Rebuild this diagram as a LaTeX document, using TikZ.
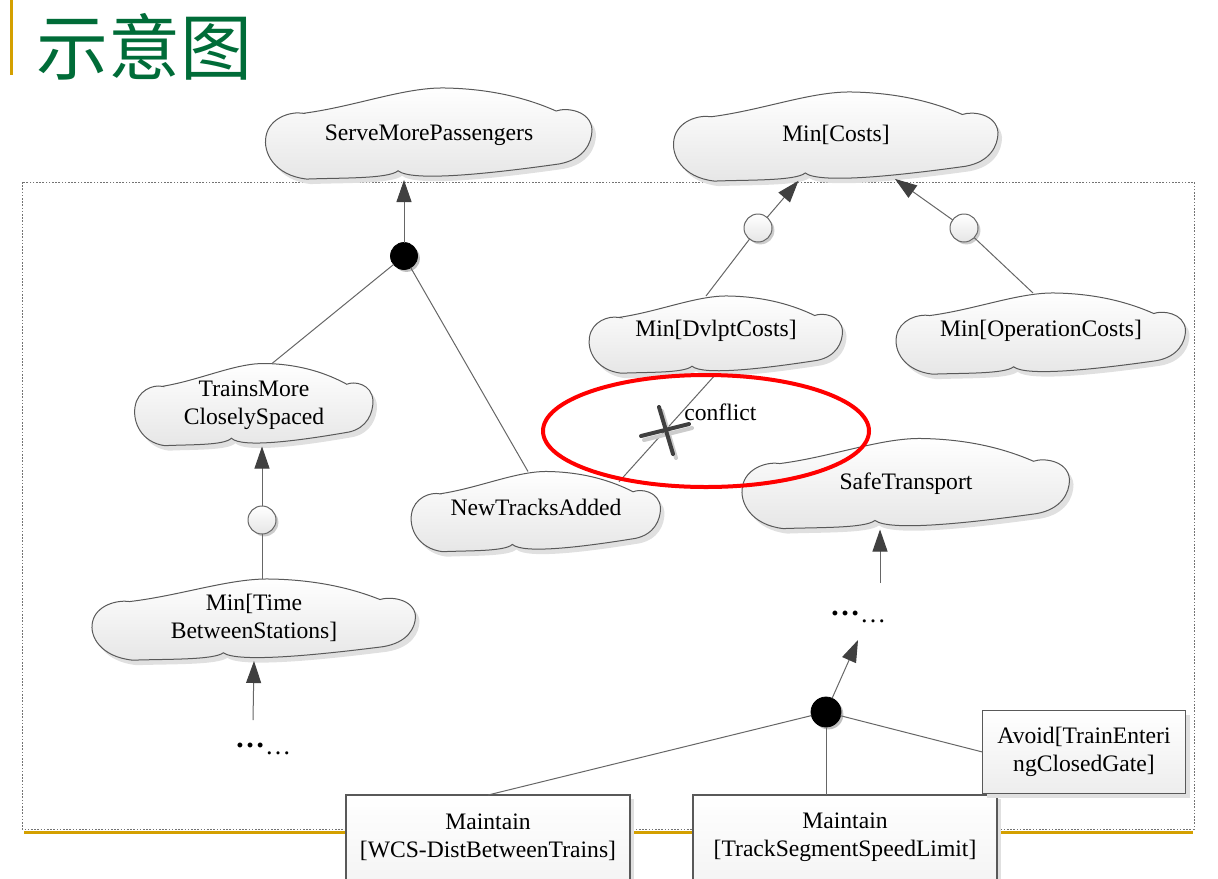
\documentclass[tikz,border=0pt]{standalone}
\usepackage{fontspec}
\setmainfont{Liberation Serif}
\newfontfamily\cjk{Noto Sans CJK SC}
\usetikzlibrary{arrows.meta,shapes.geometric,shadows}
\definecolor{titlegreen}{RGB}{0,108,56}
\definecolor{gold}{RGB}{212,160,0}
\definecolor{tipgray}{RGB}{64,64,64}
\definecolor{conflictred}{RGB}{255,0,0}

\newcommand\cloudpath{(-0.77,0.45) .. controls (-0.45,0.6) and (-0.15,1.02) .. (0.1,1.0)
 .. controls (0.4,0.98) and (0.62,0.75) .. (0.78,0.5)
 .. controls (0.84,0.58) and (0.99,0.52) .. (1.0,0.1)
 .. controls (1.0,-0.2) and (0.95,-0.55) .. (0.8,-0.65)
 .. controls (0.4,-0.85) and (-0.1,-1.05) .. (-0.19,-0.8)
 .. controls (-0.25,-0.98) and (-0.55,-0.95) .. (-0.75,-0.98)
 .. controls (-0.95,-0.9) and (-1.02,-0.4) .. (-1.0,-0.05)
 .. controls (-0.98,0.35) and (-0.85,0.5) .. cycle}

\tikzset{
  cloudline/.style={draw=black!65, line width=0.5pt, top color=white, bottom color=black!10},
  cloudnode/.style={shape=ellipse, draw=none, inner sep=0pt, outer sep=0pt},
  gtext/.style={font=\fontsize{11.8pt}{14pt}\selectfont, align=center, inner sep=0pt, text=black},
  conn/.style={draw=black!60, line width=0.5pt},
  arr/.style={draw=black!60, line width=0.5pt, -{Triangle[length=11pt,width=7.5pt,color=tipgray]}},
  orcirc/.style={circle, draw=black!60, line width=0.5pt, top color=white, bottom color=black!10,
     minimum size=14pt, inner sep=0pt, outer sep=0pt,
     drop shadow={shadow xshift=1.2pt, shadow yshift=-1.2pt, fill=black!20, opacity=1}},
  andcirc/.style={circle, fill=black, draw=black, minimum size=14pt, inner sep=0pt, outer sep=0pt,
     drop shadow={shadow xshift=1.2pt, shadow yshift=-1.2pt, fill=black!25, opacity=1}},
  goalbox/.style={rectangle, draw=black!65, line width=0.6pt, top color=white, bottom color=black!7,
     inner sep=0pt, outer sep=0pt,
     drop shadow={shadow xshift=2pt, shadow yshift=-2pt, fill=black!12, opacity=1}},
  frame/.style={draw=black!55, line width=0.4pt, dash pattern=on 0.8pt off 0.8pt},
  xmark/.style={draw=black!75, line width=2pt, line cap=round},
  dotstext/.style={font=\fontsize{13pt}{13pt}\selectfont, inner sep=0pt, anchor=base},
}

% #1 name, #2 cx, #3 cy, #4 width, #5 height, #6 text y, #7 text
\newcommand\mycloud[7]{%
  \begin{scope}[shift={(#2+4,#3+5)}, xscale=#4/2, yscale=-#5/2]
    \fill[black!12] \cloudpath;
  \end{scope}
  \begin{scope}[shift={(#2,#3)}, xscale=#4/2, yscale=-#5/2]
    \shadedraw[cloudline] \cloudpath;
  \end{scope}
  \node[cloudnode, minimum width=#4*0.5pt, minimum height=#5*0.5pt] (#1) at (#2,#3) {};
  \node[gtext] (#1-t) at (#2,#6) {#7};
}

\begin{document}
\begin{tikzpicture}[x=0.5pt, y=-0.5pt]
\useasboundingbox (0,0) rectangle (1218,878);
\clip (0,0) rectangle (1218,878);

% page decoration
\fill[gold] (10,0) rectangle (13,75);
\node[font=\cjk\fontsize{36pt}{36pt}\selectfont, text=titlegreen, anchor=west, inner sep=0pt] (title) at (36,47) {示意图};
\draw[frame] (22,182) rectangle (1194,829);
\fill[gold] (24,830.5) rectangle (1193,834);

% clouds
\mycloud{smp}{429}{134}{326}{92}{135}{ServeMorePassengers}
\mycloud{mc}{836}{137}{324}{90}{135}{Min[Costs]}
\mycloud{mdc}{716}{335}{253}{78}{331}{Min[DvlptCosts]}
\mycloud{mop}{1041}{334}{289}{82}{331}{Min[OperationCosts]}
\mycloud{tmc}{254}{405}{238}{83}{405}{TrainsMore\\CloselySpaced}
\mycloud{nta}{536}{512}{249}{81}{507}{NewTracksAdded}
\mycloud{st}{906}{484}{327}{91}{484}{SafeTransport}
\mycloud{mtb}{254}{620}{323}{82}{617.5}{Min[Time\\BetweenStations]}

% refinement circles
\node[andcirc, minimum size=13.5pt] (and1) at (404,256) {};
\node[orcirc] (or1) at (758,228) {};
\node[orcirc] (or2) at (964,228) {};
\node[orcirc] (or3) at (262,520) {};
\node[andcirc, minimum size=15pt] (and2) at (826,712) {};

% boxes
\node[goalbox, anchor=north, minimum width=142pt, minimum height=70pt] (wcs) at (488,795) {};
\node[gtext] (wcs-t) at (488,837) {Maintain\\{[}WCS-DistBetweenTrains]};
\node[goalbox, anchor=north, minimum width=152pt, minimum height=70pt] (track) at (845,795) {};
\node[gtext] (track-t) at (845,837) {Maintain\\{[}TrackSegmentSpeedLimit]};
\node[goalbox, minimum width=101.5pt, minimum height=41.5pt, gtext, inner sep=0pt] (avoid) at (1084,752) {Avoid[TrainEnteri\\ngClosedGate]};

% ellipsis texts
\node[dotstext] (dots1) at (263,754) {{\bfseries\fontsize{15pt}{15pt}\selectfont\raisebox{3.5pt}{…}}…};
\node[dotstext] (dots2) at (858,622) {{\bfseries\fontsize{15pt}{15pt}\selectfont\raisebox{3.5pt}{…}}…};
\coordinate (d1top) at (253,720);
\coordinate (d2top) at (880,583);
\coordinate (d2bot) at (858,640);

% connectors
\draw[arr] (and1) -- (and1 |- smp.south);
\draw[conn] ([xshift=9pt]tmc.north) -- (and1);
\draw[conn] ([xshift=-4pt]nta.north) -- (and1);
\draw[arr] (or3) -- (or3 |- tmc.south);
\draw[conn] (or3 |- mtb.north) -- (or3);
\draw[arr] (d1top) -- (mtb.south);
\draw[conn] ([xshift=-5pt]mdc.north) -- (or1);
\draw[arr] (or1) -- (mc);
\draw[conn] ([xshift=-4pt]mop.north) -- (or2);
\draw[arr] (or2) -- (mc);
\draw[conn] (mdc.south) -- (nta.20);
\draw[arr] (d2top) -- (d2top |- st.south);
\draw[arr] (and2) -- (d2bot);
\draw[conn] (wcs.north) -- (and2);
\draw[conn] (and2 |- track.north) -- (and2);
\draw[conn] (avoid.west) -- (and2);

% conflict marking
\node[ellipse, draw=conflictred, line width=2pt, minimum width=163pt, minimum height=56pt, inner sep=0pt] (confl) at (706,431) {};
\draw[xmark, draw=black!20] (644,440) -- (692,428);
\draw[xmark, draw=black!20] (662,411) -- (676,458);
\draw[xmark] (641,436) -- (689,424);
\draw[xmark] (659,407) -- (673,454);
\node[gtext, anchor=west] (conftext) at (684,412) {conflict};
\end{tikzpicture}
\end{document}
